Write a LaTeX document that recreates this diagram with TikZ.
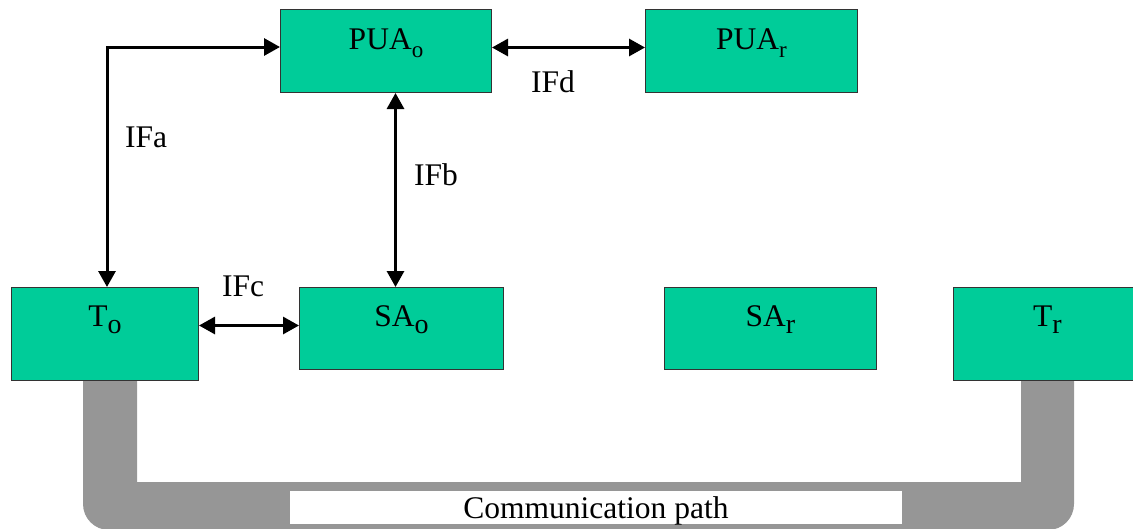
\documentclass[tikz,border=0pt]{standalone}
\usepackage{fontspec}
\setmainfont{Liberation Serif}
\usetikzlibrary{arrows.meta}
\definecolor{boxgreen}{HTML}{00CC99}
\definecolor{pathgray}{HTML}{969696}
\newcommand{\mysub}[1]{\raisebox{-8pt}{\fontsize{23}{23}\selectfont #1}}
\newcommand{\mysubb}[1]{\raisebox{-7.5pt}{\fontsize{28}{28}\selectfont #1}}
\begin{document}
\begin{tikzpicture}[x=1pt,y=-1pt,
  unit/.style={draw=black!80, line width=1pt, fill=boxgreen, inner sep=0pt, anchor=north west},
  txt/.style={font=\fontsize{31.5}{36}\selectfont, inner sep=0pt, anchor=base},
  lbl/.style={font=\fontsize{31.5}{36}\selectfont, inner sep=0pt, anchor=base west},
  link/.style={line width=3pt, {Triangle[length=16pt,width=17pt]}-{Triangle[length=16pt,width=17pt]}},
]
\useasboundingbox (0,0) rectangle (1133,528);
% communication path (gray band)
\fill[pathgray] (137,380) -- (137,482) -- (1021,482) -- (1021,380) -- (1074,380)
  [rounded corners=26pt] -- (1074,530) -- (83,530) [sharp corners] -- (83,380) -- cycle;
\node[fill=white, minimum width=612pt, minimum height=33pt, inner sep=0pt,
  text height=21pt, text depth=-1pt, font=\fontsize{31.5}{36}\selectfont]
  (comm) at (596,507.5) {Communication path};
% boxes
\node[unit, minimum width=211pt, minimum height=83pt] (puao) at (280,9) {};
\node[unit, minimum width=212pt, minimum height=83pt] (puar) at (645,9) {};
\node[unit, minimum width=187pt, minimum height=93pt] (to) at (11,287) {};
\node[unit, minimum width=204pt, minimum height=82pt] (sao) at (299,287) {};
\node[unit, minimum width=212pt, minimum height=82pt] (sar) at (664,287) {};
\node[unit, minimum width=188pt, minimum height=93pt] (tr) at (953,287) {};
% box texts
\node[txt] (puaot) at ([yshift=-40pt]puao.north) {PUA\mysub{o}};
\node[txt] (puart) at ([yshift=-40pt]puar.north) {PUA\mysub{r}};
\node[txt] (tot) at ([yshift=-39pt]to.north) {T\mysubb{o}};
\node[txt] (saot) at ([yshift=-39pt]sao.north) {SA\mysubb{o}};
\node[txt] (sart) at ([yshift=-39pt]sar.north) {SA\mysubb{r}};
\node[txt] (trt) at ([yshift=-39pt]tr.north) {T\mysubb{r}};
% connectors
\coordinate (corner) at (107,47);
\draw[link] (corner |- to.north) -- (corner) -- (puao.west |- corner);
\draw[link] ([xshift=9.5pt]puao.south) -- ([xshift=-6pt]sao.north);
\draw[link] ([yshift=8.5pt]to.east) -- ([yshift=3pt]sao.west);
\draw[link] ([yshift=3.5pt]puao.east) -- ([yshift=3.5pt]puar.west);
% interface labels
\node[lbl] (ifa) at (125,147) {IFa};
\node[lbl] (ifb) at (414,185) {IFb};
\node[lbl] (ifc) at (222,296) {IFc};
\node[lbl] (ifd) at (531,92) {IFd};
\end{tikzpicture}
\end{document}
